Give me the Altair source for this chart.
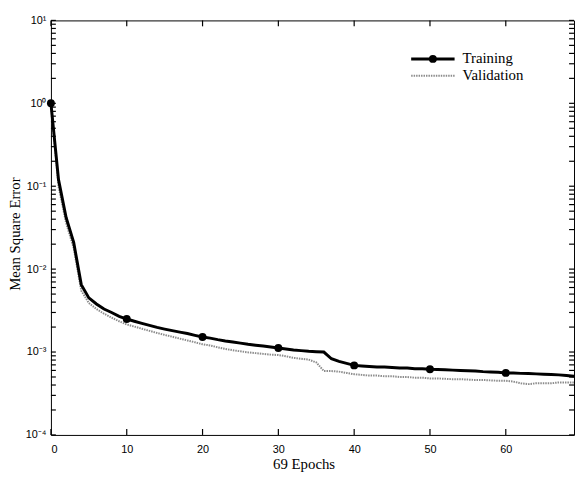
import altair as alt
import pandas as pd

epochs = list(range(70))
training = [
    1.0, 0.12, 0.042, 0.021, 0.0065, 0.0045, 0.0038, 0.0033, 0.0030, 0.0027,
    0.0025, 0.00235, 0.00222, 0.00210, 0.00198, 0.00189, 0.00181, 0.00174, 0.00167, 0.00159,
    0.00152, 0.00147, 0.00141, 0.00136, 0.00132, 0.00128, 0.00124, 0.00121, 0.00118, 0.00115,
    0.00112, 0.00109, 0.00106, 0.00104, 0.00102, 0.00101, 0.00100, 0.00083, 0.00077, 0.00073,
    0.00069, 0.00068, 0.00067, 0.00066, 0.00066, 0.00065, 0.00064, 0.00064, 0.00063, 0.00063,
    0.00062, 0.000615, 0.00061, 0.000605, 0.00060, 0.000595, 0.00059, 0.00058, 0.000575, 0.00057,
    0.00056, 0.000557, 0.000553, 0.00055, 0.000545, 0.00054, 0.000535, 0.00053, 0.00052, 0.00051,
]
validation = [
    1.0, 0.10, 0.036, 0.018, 0.0055, 0.0039, 0.0033, 0.0029, 0.0026, 0.00235,
    0.00215, 0.00203, 0.00191, 0.00180, 0.00170, 0.00161, 0.00153, 0.00145, 0.00138, 0.00131,
    0.00124, 0.00120, 0.00114, 0.00109, 0.00105, 0.00102, 0.00099, 0.00097, 0.00095, 0.00093,
    0.00092, 0.00089, 0.00085, 0.00083, 0.00081, 0.00075, 0.00059, 0.00059, 0.00058, 0.00056,
    0.00054, 0.00053, 0.00052, 0.00052, 0.00051, 0.00051, 0.00050, 0.00050, 0.00049, 0.00049,
    0.00048, 0.00048, 0.000475, 0.00047, 0.00047, 0.000465, 0.00046, 0.00046, 0.000455, 0.00045,
    0.00045, 0.00044, 0.00042, 0.00041, 0.00042, 0.00042, 0.00042, 0.00043, 0.00043, 0.00043,
]
marker_epochs = [0, 10, 20, 30, 40, 50, 60]
x_ticks = [0, 10, 20, 30, 40, 50, 60]
y_ticks = [float(f"{m}e{k}") for k in range(-4, 1) for m in range(1, 10)] + [10.0]
legend_labels = ["Training", "Validation"]

df = pd.DataFrame({"epoch": epochs, "training": training, "validation": validation})
df_markers = df[df["epoch"].isin(marker_epochs)]
df_xt = pd.DataFrame({"epoch": x_ticks})
df_yt = pd.DataFrame({"training": y_ticks})

label_expr = (
    "datum.value == 10 ? '10¹' : datum.value == 1 ? '10⁰' : "
    "datum.value == 0.1 ? '10⁻¹' : datum.value == 0.01 ? '10⁻²' : "
    "datum.value == 0.001 ? '10⁻³' : datum.value == 0.0001 ? '10⁻⁴' : ''"
)

W, H = 530, 420
xscale = alt.Scale(domain=[0, 69], nice=False, zero=False)
yscale = alt.Scale(type="log", domain=[1e-4, 10], nice=False)

x_axis = alt.Axis(
    values=x_ticks, format="d", ticks=False, labelPadding=9, grid=False, domain=False,
    title="69 Epochs", titleX=256, titleY=29, titleBaseline="middle", titleAlign="center",
)
y_axis = alt.Axis(
    values=y_ticks, labelExpr=label_expr, ticks=False, labelPadding=5,
    grid=False, domain=False,
    title="Mean Square Error", titleX=-37, titleY=216, titleAngle=270,
    titleBaseline="middle", titleAlign="center",
)

X = alt.X("epoch:Q", scale=xscale, axis=x_axis)
Y = lambda f: alt.Y(f"{f}:Q", scale=yscale, axis=y_axis)

base = alt.Chart(df)

train_line = base.mark_line(color="black", strokeWidth=3).encode(x=X, y=Y("training"))
val_line = base.mark_line(color="#8c8c8c", strokeWidth=2, strokeDash=[1.5, 1]).encode(
    x=X, y=Y("validation"))
train_pts = alt.Chart(df_markers).mark_point(filled=True, color="black", size=64, opacity=1).encode(
    x=X, y=Y("training"))

# inward tick marks on all four sides, placed through the scales
tick_bottom = alt.Chart(df_xt).mark_tick(
    orient="vertical", size=6, thickness=1.2, color="black", opacity=1
).encode(x=X, y=alt.value(H - 3))
tick_top = alt.Chart(df_xt).mark_tick(
    orient="vertical", size=6, thickness=1.2, color="black", opacity=1
).encode(x=X, y=alt.value(3))
tick_left = alt.Chart(df_yt).mark_tick(
    orient="horizontal", size=5, thickness=1.2, color="black", opacity=1
).encode(y=Y("training"), x=alt.value(2.5))
tick_right = alt.Chart(df_yt).mark_tick(
    orient="horizontal", size=5, thickness=1.2, color="black", opacity=1
).encode(y=Y("training"), x=alt.value(W - 2.5))

leg_df = pd.DataFrame({"label": legend_labels})
leg_train = alt.Chart(leg_df.iloc[[0]]).mark_rule(color="black", strokeWidth=3).encode(
    x=alt.value(365), x2=alt.value(409), y=alt.value(39)
)
leg_train_pt = alt.Chart(leg_df.iloc[[0]]).mark_point(filled=True, color="black", size=64, opacity=1).encode(
    x=alt.value(387), y=alt.value(39)
)
leg_val = alt.Chart(leg_df.iloc[[1]]).mark_rule(color="#8c8c8c", strokeWidth=2, strokeDash=[1.5, 1]).encode(
    x=alt.value(365), x2=alt.value(409), y=alt.value(56)
)
leg_text_train = alt.Chart(leg_df.iloc[[0]]).mark_text(
    align="left", baseline="middle", font="Liberation Serif", fontSize=15, color="black"
).encode(x=alt.value(417), y=alt.value(38), text="label:N")
leg_text_val = alt.Chart(leg_df.iloc[[1]]).mark_text(
    align="left", baseline="middle", font="Liberation Serif", fontSize=15, color="black"
).encode(x=alt.value(417), y=alt.value(55), text="label:N")

chart = alt.layer(
    val_line, train_line, train_pts,
    tick_bottom, tick_top, tick_left, tick_right,
    leg_train, leg_train_pt, leg_val, leg_text_train, leg_text_val,
).properties(
    width=W, height=H,
    padding={"left": 43.5, "top": 9.5, "right": 1, "bottom": 36},
    autosize=alt.AutoSizeParams(type="none"),
    background="white",
).configure_view(
    stroke="black", strokeWidth=1
).configure_axis(
    grid=False, domain=False,
    labelFont="Liberation Sans", labelFontSize=11, labelColor="black",
    titleFont="Liberation Serif", titleFontSize=15, titleFontWeight="normal", titleColor="black",
)

chart.save("out.html", embed_options={"renderer": "svg", "actions": False})
